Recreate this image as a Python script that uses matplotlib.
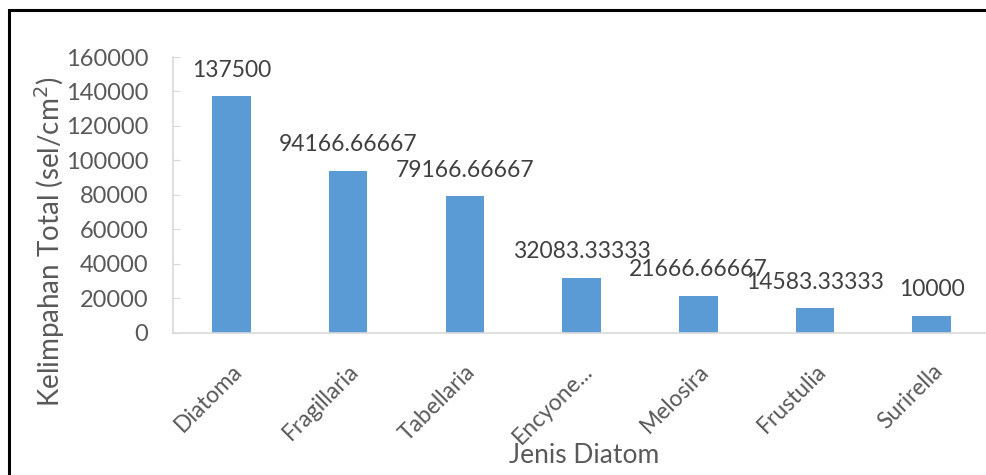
import matplotlib.pyplot as plt
from matplotlib.patches import Rectangle

plt.rcParams['font.family'] = ['Lato', 'DejaVu Sans']

genera = ['Diatoma', 'Fragillaria', 'Tabellaria', 'Encyone...', 'Melosira', 'Frustulia', 'Surirella']
abundance = [137500, 94166.66667, 79166.66667, 32083.33333, 21666.66667, 14583.33333, 10000]
value_labels = ['137500', '94166.66667', '79166.66667', '32083.33333', '21666.66667', '14583.33333', '10000']

fig = plt.figure(figsize=(9.86, 4.75), dpi=100)
ax = fig.add_axes([0.1755, 0.299, 0.8286, 0.581])

x = range(len(genera))
ax.bar(x, abundance, width=0.33, color='#5b9bd5')

for i, (v, lab) in enumerate(zip(abundance, value_labels)):
    ax.annotate(lab, (i, v), xytext=(0, 11), textcoords='offset points',
                ha='center', va='bottom', fontsize=16.5, color='#404040')

ax.set_xlim(-0.5, len(genera) - 0.5)
ax.set_ylim(0, 160000)
ax.set_yticks(range(0, 160001, 20000))
ax.set_xticks(list(x))
ax.set_xticklabels(genera, rotation=45, ha='right', rotation_mode='anchor')

for s in ['top', 'right']:
    ax.spines[s].set_visible(False)
for s in ['left', 'bottom']:
    ax.spines[s].set_color('#d9d9d9')
    ax.spines[s].set_linewidth(1.2)

ax.tick_params(axis='y', direction='in', colors='#d9d9d9', labelcolor='#595959',
               labelsize=17, length=5, pad=18)
ax.tick_params(axis='x', length=0, labelcolor='#595959', labelsize=16.5, pad=20)

ax.set_ylabel('Kelimpahan Total (sel/cm$^2$)', fontsize=20, color='#595959')
ax.yaxis.set_label_coords(-0.13, 0.33)
ax.set_xlabel('Jenis Diatom', fontsize=19, color='#595959')
ax.xaxis.set_label_coords(0.503, -0.40)

# black frame around the chart (cropped on right and bottom)
fig.add_artist(Rectangle((9 / 986, -0.1), 1.2, (475 - 10) / 475 + 0.1,
                         transform=fig.transFigure, fill=False,
                         edgecolor='black', linewidth=2.2))

fig.savefig('out.png', dpi=100)
